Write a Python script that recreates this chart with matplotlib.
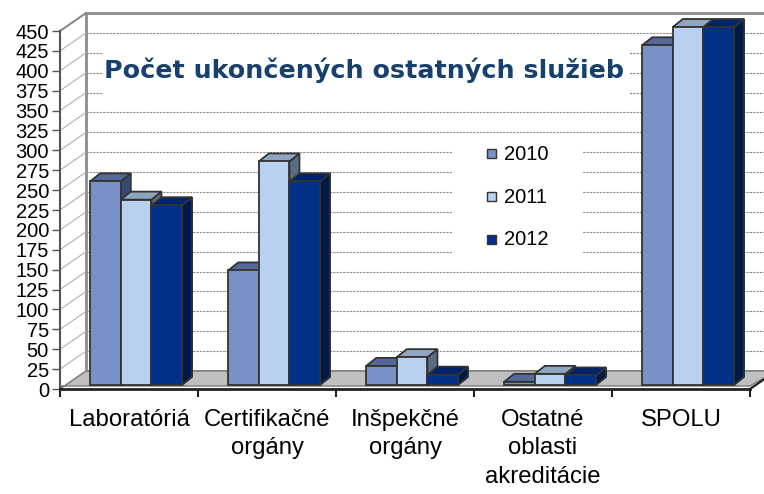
import matplotlib

matplotlib.use("Agg")
import matplotlib.pyplot as plt
from matplotlib.patches import Polygon, Rectangle

categories = ["Laboratóriá", "Certifikačné\norgány", "Inšpekčné\norgány",
              "Ostatné\noblasti\nakreditácie", "SPOLU"]
years = ["2010", "2011", "2012"]
v2010 = [256, 144, 24, 4, 427]
v2011 = [233, 281, 35, 14, 561]
v2012 = [226, 256, 13, 12, 506]
yticks = list(range(0, 451, 25))
title = "Počet ukončených ostatných služieb"

front = ["#7891c6", "#b8d1ee", "#003087"]
tops = ["#54689a", "#8fa5c0", "#00246c"]
sides = ["#394a72", "#5c6d82", "#001a48"]
edge = "#333333"

W, H = 764, 494
x0, x1, y0, y1 = 60, 750, 389, 31
YMAX = 450
NCAT = len(categories)
ux = NCAT / (x1 - x0)      # data units per pixel (x)
uy = YMAX / (y0 - y1)      # data units per pixel (y)


def off(px, py):
    return px * ux, py * uy


fig = plt.figure(figsize=(W / 100, H / 100), dpi=100)
ax = fig.add_axes([x0 / W, (H - y0) / H, (x1 - x0) / W, (y0 - y1) / H])
ax.set_xlim(0, NCAT)
ax.set_ylim(0, YMAX)
ax.patch.set_alpha(0)

DX, DY = off(26, 18)

# back wall + gridlines
ax.add_patch(Rectangle((DX, DY), NCAT, YMAX, facecolor="white",
                       edgecolor="#8c8c8c", lw=2, clip_on=False, zorder=0))
for v in yticks[1:-1]:
    ax.plot([DX, NCAT + DX], [v + DY, v + DY], color="#8a8a8a", lw=0.8,
            ls=(0, (2, 1)), clip_on=False, zorder=1)
# side wall lines
for v in yticks:
    ax.plot([0, DX], [v, v + DY], color="#b0b0b0", lw=0.8, clip_on=False, zorder=1)
ax.plot([0, DX], [YMAX, YMAX + DY], color="#8c8c8c", lw=1.5, clip_on=False, zorder=1)

# white boxes behind title and legend
bx0, by0 = (102 - x0) * ux, (y0 - 100) * uy
ax.add_patch(Rectangle((bx0, by0), (630 - 102) * ux, 63 * uy, facecolor="white",
                       edgecolor="none", clip_on=False, zorder=2))
ax.add_patch(Rectangle(((452 - x0) * ux, (y0 - 260) * uy), 131 * ux, 124 * uy,
                       facecolor="white", edgecolor="none", clip_on=False, zorder=2))

# floor
fx, fy = off(2, 3)
ax.add_patch(Polygon([(0, 0), (fx, fy), (NCAT, fy), (NCAT + DX, DY), (DX, DY)],
                     closed=True, facecolor="#c0c0c0", edgecolor="#7a7a7a", lw=1,
                     clip_on=False, zorder=3))
ax.plot([NCAT, NCAT + DX], [0, DY], color="#222222", lw=1.6, clip_on=False, zorder=3)

# bars
series = [v2010, v2011, v2012]
bw = 0.222
gx = 0.168
ox, oy = off(7, 4)
ddx, ddy = off(10, 8)
for i in range(NCAT):
    for j, vals in enumerate(series):
        h = min(vals[i], YMAX)
        xl = i + gx + j * bw + ox
        xr = xl + bw
        yb, yt = oy, oy + h
        z = 4 + j * 0.1
        ax.add_patch(Polygon([(xr, yb), (xr + ddx, yb + ddy), (xr + ddx, yt + ddy), (xr, yt)],
                             facecolor=sides[j], edgecolor=edge, lw=1.3, clip_on=False, zorder=z))
        ax.add_patch(Polygon([(xl, yt), (xl + ddx, yt + ddy), (xr + ddx, yt + ddy), (xr, yt)],
                             facecolor=tops[j], edgecolor=edge, lw=1.3, clip_on=False, zorder=z))
        ax.add_patch(Rectangle((xl, yb), bw, h, facecolor=front[j], edgecolor=edge,
                               lw=1.3, clip_on=False, zorder=z + 0.05))

# axes styling
for s in ["top", "right"]:
    ax.spines[s].set_visible(False)
ax.spines["left"].set_color("#555555")
ax.spines["left"].set_linewidth(1.5)
ax.spines["bottom"].set_color("#222222")
ax.spines["bottom"].set_linewidth(2)
ax.spines["left"].set_zorder(6)
ax.spines["bottom"].set_zorder(6)
ax.set_yticks(yticks)
ax.set_yticklabels([str(v) for v in yticks], fontsize=14.5, family="Liberation Sans")
ax.tick_params(axis="y", length=6, width=1, color="#555555", pad=2)
ax.set_xticks(range(NCAT + 1))
ax.set_xticklabels([])
ax.tick_params(axis="x", length=6, width=1.5, color="#222222")
for i, c in enumerate(categories):
    ax.text(i + 0.5, -25, c, ha="center", va="top", fontsize=17.2,
            family="Liberation Sans", linespacing=1.38, clip_on=False)

# title
ax.text((364 - x0) * ux, (y0 - 70) * uy, title, ha="center", va="center",
        fontsize=18.3, fontweight="bold", color="#17406e", family="DejaVu Sans", zorder=7)

# legend
for j, yr in enumerate(years):
    ly = (y0 - [154, 197, 239][j]) * uy
    ax.add_patch(Rectangle(((487 - x0) * ux, ly - 4.5 * uy), 9 * ux, 9 * uy,
                           facecolor=front[j], edgecolor=edge, lw=1, clip_on=False, zorder=7))
    ax.text((504 - x0) * ux, ly, yr, ha="left", va="center", fontsize=14.5,
            family="Liberation Sans", zorder=7)

fig.savefig("out.png", dpi=100)
